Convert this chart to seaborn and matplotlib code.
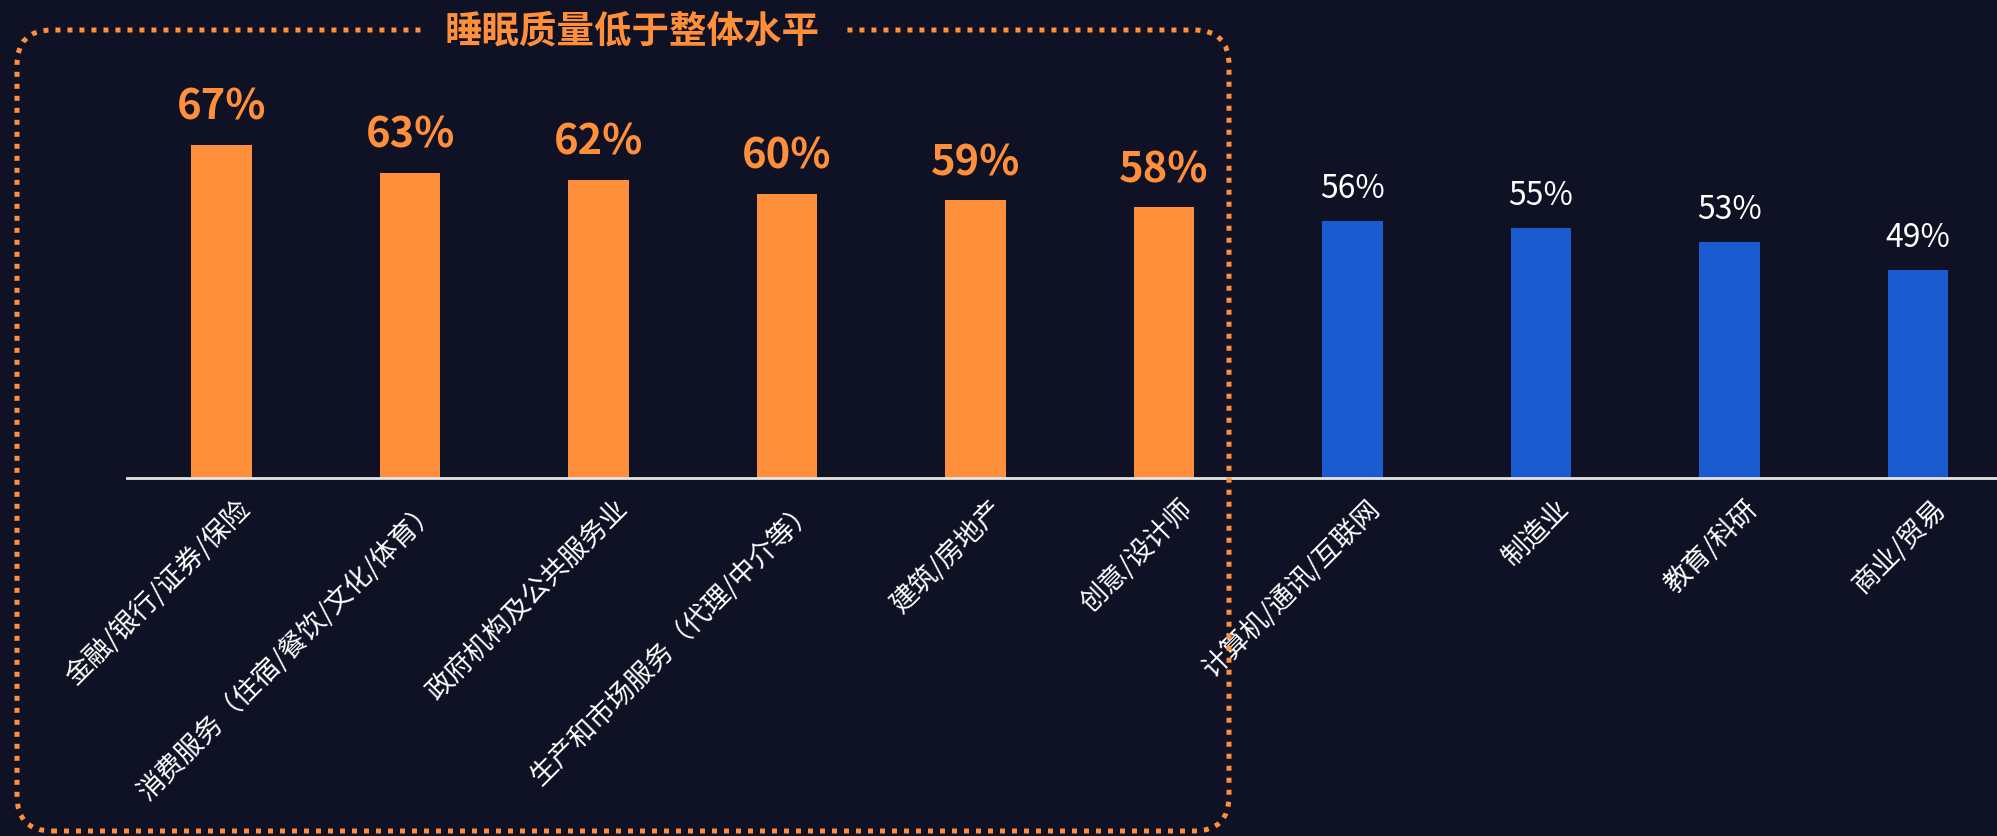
import numpy as np
import pandas as pd
import matplotlib
matplotlib.use("Agg")
import matplotlib.pyplot as plt
import matplotlib.transforms as mtrans
from matplotlib.patches import FancyBboxPatch
import seaborn as sns

# data
industries = ["金融/银行/证券/保险", "消费服务（住宿/餐饮/文化/体育）", "政府机构及公共服务业",
              "生产和市场服务（代理/中介等）", "建筑/房地产", "创意/设计师",
              "计算机/通讯/互联网", "制造业", "教育/科研", "商业/贸易"]
pct = [67, 63, 62, 60, 59, 58, 56, 55, 53, 49]
below_avg = [True] * 6 + [False] * 4

BG = "#0f1124"
ORANGE = "#ff8f3a"
BLUE = "#1b5bd0"

sns.set_theme(style="white")
plt.rcParams["font.family"] = ["Noto Sans CJK SC", "DejaVu Sans"]

df = pd.DataFrame({"industry": industries, "pct": pct})
colors = [ORANGE if b else BLUE for b in below_avg]

fig = plt.figure(figsize=(19.97, 8.36), dpi=100, facecolor=BG)
ax = fig.add_axes([100 / 1568, 1 - 375 / 656, 1 - 100 / 1568, 375 / 656])
ax.set_facecolor(BG)

sns.barplot(data=df, x="industry", y="pct", hue="industry", palette=colors,
            legend=False, width=0.32, saturation=1, linewidth=0,
            edgecolor="none", ax=ax)

ax.set_xlim(-0.5, 9.42)
ax.set_ylim(19, 87.9)
ax.set_xlabel("")
ax.set_ylabel("")
ax.set_yticks([])
for s in ["left", "right", "top"]:
    ax.spines[s].set_visible(False)
ax.spines["bottom"].set_color("#e6e6e6")
ax.spines["bottom"].set_linewidth(2)

# value labels
for i, (v, b) in enumerate(zip(pct, below_avg)):
    if b:
        ax.annotate(f"{v}%", (i, v), xytext=(0, 18), textcoords="offset points",
                    ha="center", va="baseline", color=ORANGE, fontsize=30,
                    fontweight="bold")
    else:
        ax.annotate(f"{v}%", (i, v), xytext=(0, 16.5), textcoords="offset points",
                    ha="center", va="baseline", color="white", fontsize=23)

# rotated category labels
ax.tick_params(axis="x", length=0, pad=19)
ax.set_xticks(range(len(industries)))
ax.set_xticklabels(industries, rotation=45, ha="right", va="center",
                   rotation_mode="anchor", color="white", fontsize=19.5)
shift = mtrans.ScaledTranslation(24 / 100, 0, fig.dpi_scale_trans)
for lbl in ax.get_xticklabels():
    lbl.set_transform(lbl.get_transform() + shift)

# dotted rounded frame around the below-average group
frame = FancyBboxPatch((0.17, 0.05), 12.12, 8.01,
                       boxstyle="round,pad=0,rounding_size=0.35",
                       transform=fig.dpi_scale_trans, facecolor="none",
                       edgecolor=ORANGE, linewidth=3.6,
                       linestyle=(0, (1, 1.4)), zorder=10)
fig.patches.append(frame)

fig.text(632 / 1997, 1 - 31 / 836, "睡眠质量低于整体水平", ha="center", va="center",
         color=ORANGE, fontsize=27, fontweight="bold", zorder=11,
         bbox=dict(facecolor=BG, edgecolor="none", pad=15))

fig.savefig("out.png", dpi=100, facecolor=BG)
